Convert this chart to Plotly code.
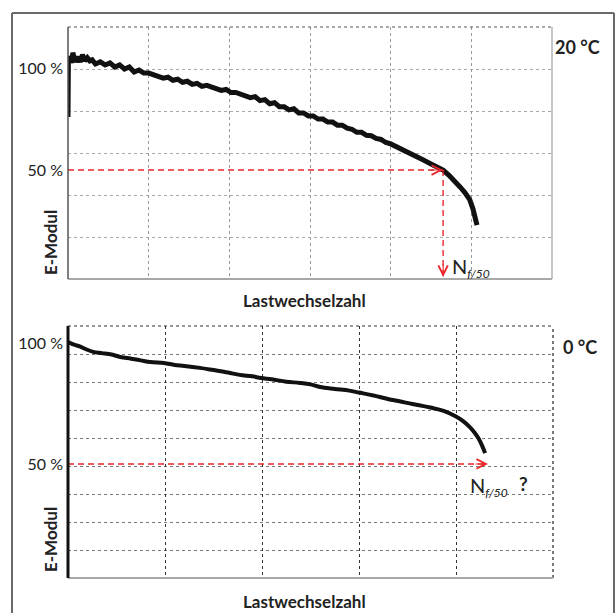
import plotly.graph_objects as go
import numpy as np

# ---- data -------------------------------------------------------------
# Stiffness modulus (% of initial) versus load cycles (grid units), 20 °C test
cycles_20 = [0.00, 0.005, 0.03, 0.045, 0.06, 0.075, 0.09, 0.12, 0.15, 0.18, 0.21, 0.24,
             0.27, 0.30, 0.34, 0.40, 0.46, 0.52, 0.58, 0.64, 0.70, 0.76, 0.82, 0.88,
             0.94, 1.00, 1.06, 1.12, 1.18, 1.24, 1.30, 1.36, 1.42, 1.48, 1.54, 1.60,
             1.66, 1.72, 1.78, 1.84, 1.90, 1.96, 2.02, 2.08, 2.14, 2.20, 2.26, 2.32,
             2.38, 2.44, 2.50, 2.56, 2.62, 2.68, 2.74, 2.80, 2.86, 2.92, 2.98, 3.04,
             3.10, 3.16, 3.22, 3.28, 3.34, 3.40, 3.46, 3.52, 3.58, 3.64, 3.70, 3.76,
             3.82, 3.88, 3.94, 4.00, 4.10, 4.20, 4.30, 4.40, 4.50, 4.60, 4.65, 4.72,
             4.80, 4.86, 4.92, 4.98, 5.02, 5.05, 5.07]
modulus_20 = [76, 104, 105.5, 102.5, 107.5, 104, 103, 105.5, 103, 106.5, 103.5, 105,
              103.5, 104, 102, 103, 101.5, 102.5, 100.5, 101.5, 99.5, 100.5, 98, 99,
              97.5, 97.5, 96.5, 96, 95, 95.5, 94, 94.5, 93, 93.5, 92, 92.5,
              91, 91.5, 90.5, 90, 89, 89.5, 88, 88, 87, 86.5, 85.5, 86,
              84, 84.5, 82.5, 83, 81, 81, 79.5, 80, 78, 78, 76.5, 76.5,
              75, 75, 73.5, 73.5, 72, 72, 70.5, 70, 68.5, 68.5, 67, 66.8,
              65.5, 65, 63.5, 62.8, 61, 59, 57, 55, 53, 51, 50, 47.5,
              44.5, 41.7, 39, 35.5, 31, 26, 23]

# 0 °C test
cycles_0 = [0.00, 0.03, 0.07, 0.12, 0.18, 0.26, 0.35, 0.45, 0.54, 0.65, 0.75, 0.85,
            0.99, 1.10, 1.20, 1.36, 1.50, 1.65, 1.77, 1.90, 1.99, 2.10, 2.25, 2.39,
            2.50, 2.60, 2.75, 2.90, 3.00, 3.15, 3.35, 3.55, 3.76, 3.88, 3.99, 4.07,
            4.14, 4.19, 4.23, 4.27, 4.30]
modulus_0 = [100.4, 99.8, 99.2, 98.6, 97.5, 96.3, 95.8, 95.2, 94.2, 93.5, 92.8, 92.1,
             91.7, 90.9, 90.5, 89.7, 88.8, 87.8, 86.8, 86.2, 85.5, 85.0, 84.0, 83.5,
             82.9, 81.8, 81.0, 80.3, 79.5, 78.3, 76.4, 74.8, 73.1, 71.8, 69.8, 67.8,
             65.3, 63.0, 60.7, 57.5, 54.5]

# failure criterion and where it is reached
criterion = 50
nf50_20 = 4.65      # cycles at which the 20 °C curve reaches 50 %
arrow_end_0 = 4.33  # 0 °C curve never reaches 50 % within the test

tick_vals = [50, 100]
tick_text = ["50 %", "100 %"]

# ---- axis ranges / panel geometry ---------------------------------------
y_range_top = [-3.4, 120.1]
y_range_bot = [2.9, 107.0]
x_range_top = [0, 6]
x_range_bot = [0, 5]

W, H = 616, 613
def px_x(p):
    return p / W
def px_y(p):
    return 1 - p / H

RED = "#e8262b"
FONT = "Lato"

fig = go.Figure()

# modulus curves
fig.add_trace(go.Scatter(x=cycles_20, y=modulus_20, mode="lines",
                         line=dict(color="#111111", width=5),
                         xaxis="x", yaxis="y", showlegend=False))
fig.add_trace(go.Scatter(x=cycles_0, y=modulus_0, mode="lines",
                         line=dict(color="#111111", width=4, shape="spline"),
                         xaxis="x2", yaxis="y2", showlegend=False))

# 50 % construction lines
dash_style = dict(color=RED, width=1.4, dash="6px,4px")
fig.add_trace(go.Scatter(x=[0, nf50_20], y=[criterion, criterion], mode="lines",
                         line=dash_style, xaxis="x", yaxis="y", showlegend=False))
fig.add_trace(go.Scatter(x=[nf50_20, nf50_20], y=[criterion, y_range_top[0] + 1],
                         mode="lines", line=dash_style,
                         xaxis="x", yaxis="y", showlegend=False))
fig.add_trace(go.Scatter(x=[0, arrow_end_0], y=[criterion, criterion], mode="lines",
                         line=dash_style, xaxis="x2", yaxis="y2", showlegend=False))

# open arrowheads at the ends of the construction lines
arrow_common = dict(showarrow=True, arrowhead=5, arrowsize=1.7, arrowwidth=1.1,
                    arrowcolor=RED, text="")
fig.add_annotation(x=nf50_20, y=criterion, xref="x", yref="y", ax=-14, ay=0,
                   **arrow_common)
fig.add_annotation(x=nf50_20, y=y_range_top[0] + 1, xref="x", yref="y", ax=0, ay=-14,
                   **arrow_common)
fig.add_annotation(x=arrow_end_0, y=criterion, xref="x2", yref="y2", ax=-14, ay=0,
                   **arrow_common)

grid_minor_top = list(np.linspace(y_range_top[0], y_range_top[1], 7))
grid_minor_bot = list(np.linspace(y_range_bot[0], y_range_bot[1], 10))

tickfont = dict(family=FONT, size=16, color="#222222")

fig.update_layout(
    width=W, height=H,
    margin=dict(l=0, r=0, t=0, b=0),
    paper_bgcolor="white", plot_bgcolor="white",
    xaxis=dict(domain=[px_x(68), px_x(552)], range=x_range_top, anchor="y",
               dtick=1, tick0=0, showticklabels=False, ticks="",
               showgrid=True, gridcolor="#9a9a9a", griddash="dot", gridwidth=1,
               zeroline=False, showline=False),
    yaxis=dict(domain=[px_y(279), px_y(27)], range=y_range_top, anchor="x",
               tickmode="array", tickvals=tick_vals, ticktext=tick_text,
               tickfont=tickfont, ticks="", showgrid=False, zeroline=False,
               ticklabelstandoff=4, showline=False,
               minor=dict(tickmode="array", tickvals=grid_minor_top, showgrid=True,
                          gridcolor="#a8a8a8", griddash="dot", gridwidth=1, ticks="")),
    xaxis2=dict(domain=[px_x(68), px_x(553)], range=x_range_bot, anchor="y2",
                dtick=1, tick0=0, showticklabels=False, ticks="",
                showgrid=True, gridcolor="#333333", griddash="dot", gridwidth=1,
                zeroline=False, showline=False),
    yaxis2=dict(domain=[px_y(578), px_y(326)], range=y_range_bot, anchor="x2",
                tickmode="array", tickvals=tick_vals, ticktext=tick_text,
                tickfont=tickfont, ticks="", showgrid=False, zeroline=False,
                ticklabelstandoff=4, showline=False,
                minor=dict(tickmode="array", tickvals=grid_minor_bot, showgrid=True,
                           gridcolor="#777777", griddash="dot", gridwidth=1, ticks="")),
)

# panel borders
def border(xref, yref, x0, y0, x1, y1, color, width, dash="solid"):
    fig.add_shape(type="line", xref=xref, yref=yref, x0=x0, y0=y0, x1=x1, y1=y1,
                  line=dict(color=color, width=width, dash=dash), layer="above")

# top panel
border("x domain", "y domain", 0, 1, 1, 1, "#555555", 1, "dot")
border("x domain", "y domain", 1, 0, 1, 1, "#a0a0a0", 1.2)
border("x domain", "y domain", 0, 0, 1, 0, "#a8a8a8", 2)
border("x domain", "y domain", 0, 0, 0, 1, "#555555", 1.5)
# bottom panel
border("x2 domain", "y2 domain", 0, 1, 1, 1, "#333333", 1, "dot")
border("x2 domain", "y2 domain", 1, 0, 1, 1, "#222222", 1.2, "dot")
border("x2 domain", "y2 domain", 0, 0, 1, 0, "#a8a8a8", 2)
border("x2 domain", "y2 domain", 0, 0, 0, 1, "#111111", 3)

# outer frame
fig.add_shape(type="line", xref="paper", yref="paper", x0=px_x(12), x1=px_x(12),
              y0=-0.05, y1=px_y(13), line=dict(color="#6a6a6a", width=2))
fig.add_shape(type="line", xref="paper", yref="paper", x0=px_x(614), x1=px_x(614),
              y0=-0.05, y1=px_y(13), line=dict(color="#6a6a6a", width=2))
fig.add_shape(type="line", xref="paper", yref="paper", x0=px_x(12), x1=px_x(614),
              y0=px_y(13), y1=px_y(13), line=dict(color="#6a6a6a", width=2))

bold = dict(family=FONT, size=17, color="#222222")

def label(text, x, y, font, angle=0, xanchor="center"):
    fig.add_annotation(text=text, x=px_x(x), y=px_y(y), xref="paper", yref="paper",
                       showarrow=False, font=font, textangle=angle,
                       xanchor=xanchor, yanchor="middle")

label("<b>E-Modul</b>", 50, 243, bold, angle=-90)
label("<b>E-Modul</b>", 50, 540, bold, angle=-90)
label("<b>Lastwechselzahl</b>", 304, 300, bold)
label("<b>Lastwechselzahl</b>", 304, 601, bold)
label("<b>20 °C</b>", 577, 47, dict(family=FONT, size=18, color="#222222"))
label("<b>0 °C</b>", 580, 347, dict(family=FONT, size=18, color="#222222"))

nf_font = dict(family=FONT, size=20, color="#222222")
nf_text = "N<sub><span style='font-size:12px'><i>f/50</i></span></sub>"
label(nf_text, 450, 268, nf_font, xanchor="left")
label(nf_text, 468, 486, nf_font, xanchor="left")
label("<b>?</b>", 523, 483, dict(family=FONT, size=19, color="#222222"))

fig.write_html("out.html")
